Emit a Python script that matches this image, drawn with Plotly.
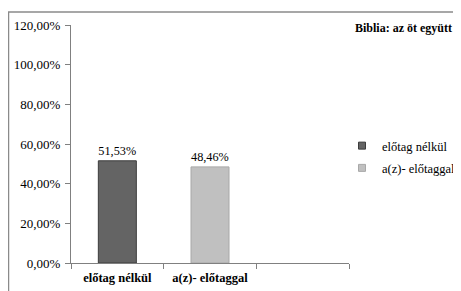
import plotly.graph_objects as go

categories = ["előtag nélkül", "a(z)- előtaggal", " "]
series_names = ["előtag nélkül", "a(z)- előtaggal"]
series_values = [0.5153, 0.4846]
series_colors = ["#646464", "#c0c0c0"]
series_lines = ["#3c3c3c", "#a8a8a8"]
tick_vals = [0, 0.2, 0.4, 0.6, 0.8, 1.0, 1.2]

font_family = "'Liberation Serif', 'Times New Roman', serif"

# The page body has an 8px margin, so the figure is drawn 8px smaller.
W, H = 453, 283
ML, MR, MT, MB = 63, 112, 17, 28
PW = W - ML - MR
PH = H - MT - MB


def px_x(x):  # figure pixel -> paper x
    return (x - ML) / PW


def px_y(y):  # figure pixel -> paper y
    return (H - MB - y) / PH


fig = go.Figure()
for i, name in enumerate(series_names):
    fig.add_trace(go.Bar(
        x=[categories[i]], y=[series_values[i]], name=name, showlegend=False,
        marker=dict(color=series_colors[i], line=dict(color=series_lines[i], width=1)),
        texttemplate="%{y:.2%}", textposition="outside", cliponaxis=False,
        textfont=dict(family=font_family, size=13, color="#000000"),
    ))
    fig.add_trace(go.Scatter(
        x=[None], y=[None], mode="markers", name=name, legendgroup=f"g{i}",
        marker=dict(symbol="square", size=7, color=series_colors[i],
                    line=dict(color=series_lines[i], width=1)),
    ))

fig.add_trace(go.Bar(x=[categories[2]], y=[None], showlegend=False, hoverinfo="skip"))

fig.update_layout(
    width=W, height=H,
    margin=dict(l=ML, r=MR, t=MT, b=MB, autoexpand=False),
    paper_bgcolor="white", plot_bgcolor="white",
    separators=", ",
    barmode="overlay", bargap=0.59,
    font=dict(family=font_family, size=13, color="#000000"),
    showlegend=True,
    legend=dict(x=px_x(334), y=px_y(123), xanchor="left", yanchor="top",
                font=dict(family=font_family, size=12.5, color="#000000"),
                itemwidth=30, tracegroupgap=3, traceorder="grouped",
                bgcolor="rgba(0,0,0,0)"),
    annotations=[dict(text="<b>Biblia: az öt együtt</b>", xref="paper", yref="paper",
                      x=px_x(446), y=px_y(20), xanchor="right", yanchor="middle",
                      showarrow=False,
                      font=dict(family=font_family, size=12, color="#000000"))],
    shapes=[
        dict(type="rect", xref="paper", yref="paper", x0=px_x(0.5), x1=px_x(W + 20),
             y0=px_y(4), y1=px_y(H + 20), layer="above",
             line=dict(color="#8a8a8a", width=1.5), fillcolor="rgba(0,0,0,0)"),
    ],
)

fig.update_yaxes(range=[0, 1.2], tickvals=tick_vals, tickformat=".2%", automargin=False,
                 showgrid=False, zeroline=False, showline=True, linecolor="#808080", linewidth=1,
                 ticks="outside", ticklen=5, tickcolor="#808080", ticklabelstandoff=2,
                 tickfont=dict(family=font_family, size=13, color="#000000"))
fig.update_xaxes(categoryorder="array", categoryarray=categories, range=[-0.5, 2.5],
                 automargin=False, tickangle=0,
                 showgrid=False, showline=True, linecolor="#808080", linewidth=1,
                 ticks="outside", ticklen=5, tickcolor="#808080", tickson="boundaries",
                 ticklabelstandoff=3,
                 tickfont=dict(family=font_family, size=12.5, color="#000000"),
                 tickprefix="<b>", ticksuffix="</b>")

fig.write_html("out.html")
